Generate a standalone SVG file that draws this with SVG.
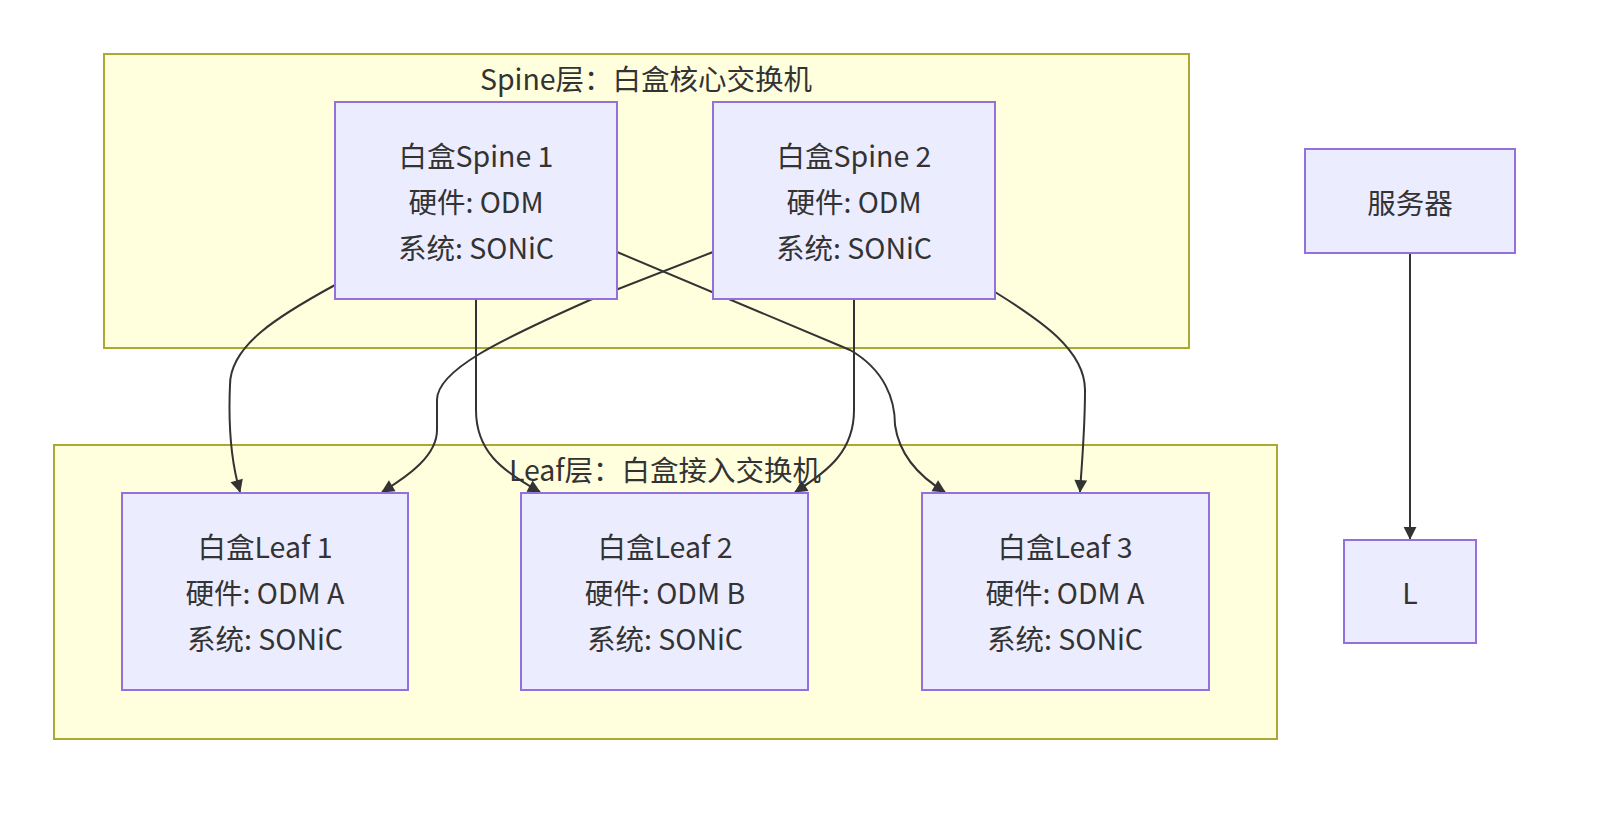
<svg xmlns="http://www.w3.org/2000/svg" width="1621" height="820" viewBox="0 0 1621 820">
<style>
.c{fill:#ffffde;stroke:#aaaa33;stroke-width:2}
.n{fill:#ececff;stroke:#9370db;stroke-width:2}
text{font-family:"Noto Sans CJK SC","Noto Sans",sans-serif;font-size:28.5px;fill:#333;text-anchor:middle;dominant-baseline:central}
.e{fill:none;stroke:#333;stroke-width:2;marker-end:url(#a)}
</style>
<defs><marker id="a" viewBox="0 0 10 10" refX="9" refY="5" markerWidth="8" markerHeight="8" orient="auto" markerUnits="userSpaceOnUse" style="overflow:visible"><path d="M0,0L10,5L0,10z" fill="#333" transform="scale(1.6) translate(-3.7,-1.9)"/></marker></defs>
<rect width="1621" height="820" fill="#fff"/>
<g id="spineLayer"><rect class="c" x="104" y="54" width="1085" height="294"/><text x="646" y="77">Spine层：白盒核心交换机</text></g>
<g id="leafLayer"><rect class="c" x="54" y="445" width="1223" height="294"/><text x="665" y="468">Leaf层：白盒接入交换机</text></g>
<g id="connectors">
<path class="e" d="M335,285C280,315 230,345 230,385C228,430 232,465 240,492"/>
<path class="e" d="M476,299L476,410C476,450 500,470 540,492"/>
<path class="e" d="M617,252L850,350C885,370 895,400 895,425C900,460 925,480 945,492"/>
<path class="e" d="M713,252L590,300C500,340 437,370 437,400L437,430C437,455 410,475 382,492"/>
<path class="e" d="M854,299L854,410C854,450 830,470 795,492"/>
<path class="e" d="M995,292C1040,320 1085,350 1085,390C1085,430 1082,460 1080,492"/>
<path class="e" d="M1410,253L1410,539"/>
</g>
<g id="spine1"><rect class="n" x="335" y="102" width="282" height="197"/><text x="476" y="154">白盒Spine 1</text><text x="476" y="200">硬件: ODM</text><text x="476" y="246">系统: SONiC</text></g>
<g id="spine2"><rect class="n" x="713" y="102" width="282" height="197"/><text x="854" y="154">白盒Spine 2</text><text x="854" y="200">硬件: ODM</text><text x="854" y="246">系统: SONiC</text></g>
<g id="leaf1"><rect class="n" x="122" y="493" width="286" height="197"/><text x="265" y="545">白盒Leaf 1</text><text x="265" y="591">硬件: ODM A</text><text x="265" y="637">系统: SONiC</text></g>
<g id="leaf2"><rect class="n" x="521" y="493" width="287" height="197"/><text x="665" y="545">白盒Leaf 2</text><text x="665" y="591">硬件: ODM B</text><text x="665" y="637">系统: SONiC</text></g>
<g id="leaf3"><rect class="n" x="922" y="493" width="287" height="197"/><text x="1065" y="545">白盒Leaf 3</text><text x="1065" y="591">硬件: ODM A</text><text x="1065" y="637">系统: SONiC</text></g>
<g id="server"><rect class="n" x="1305" y="149" width="210" height="104"/><text x="1410" y="201">服务器</text></g>
<g id="L"><rect class="n" x="1344" y="540" width="132" height="103"/><text x="1410" y="591">L</text></g>
</svg>
